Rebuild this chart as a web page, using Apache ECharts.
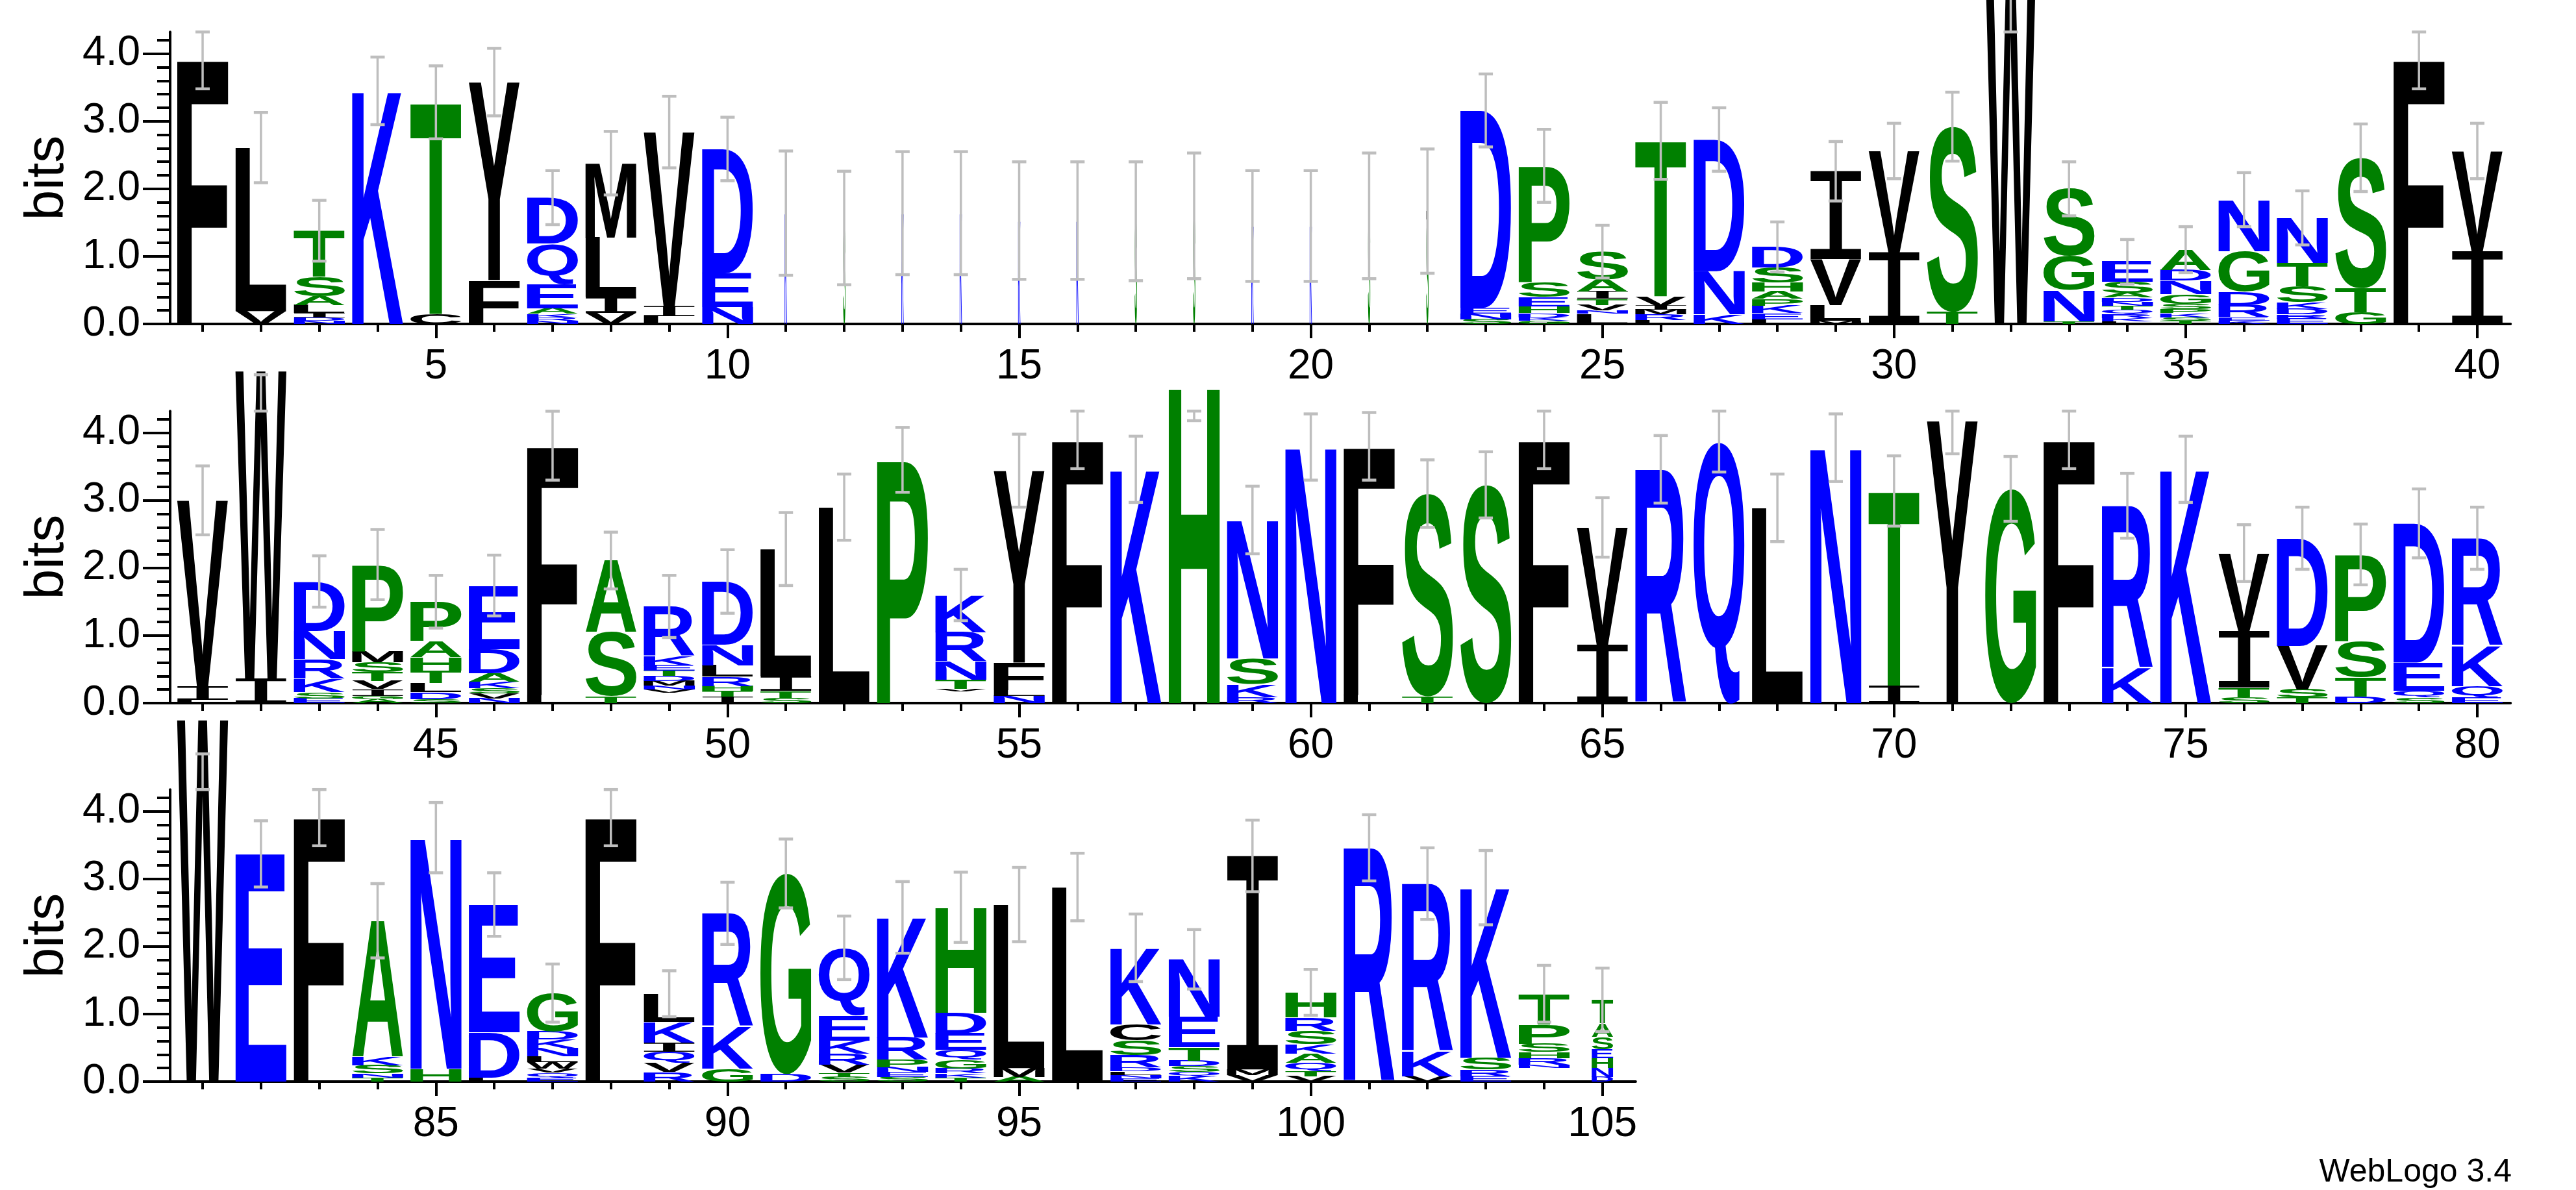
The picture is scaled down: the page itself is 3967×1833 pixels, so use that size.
<!DOCTYPE html>
<html>
<head>
<meta charset="utf-8">
<script src="https://cdn.jsdelivr.net/npm/echarts@6/dist/echarts.min.js"></script>
<style>
html,body{margin:0;padding:0;background:#ffffff;}
#chart{width:3967px;height:1833px;}
</style>
</head>
<body>
<div id="chart"></div>
<script>
// ---------------- DATA ----------------
const MAX_BITS = 4.3219;

// stacks: per position, letters from bottom to top as [letter, bits]; ' ' = undrawn space
const row1Stacks = [
  [['F',3.92]],
  [['V',0.19],['L',2.42]],
  [['N',0.05],['D',0.05],['I',0.06],['L',0.12],['A',0.13],['S',0.29],['T',0.68]],
  [['K',3.45]],
  [['C',0.15],['T',3.13]],
  [['F',0.65],['Y',2.93]],
  [['N',0.05],['R',0.05],['K',0.05],['A',0.08],['E',0.36],['Q',0.6],['D',0.68]],
  [['V',0.16],['I',0.24],['L',0.88],['M',1.1]],
  [['L',0.12],['I',0.15],['V',2.57]],
  [['N',0.25],['E',0.5],['D',1.84]],
  [['K',1.64]],
  [['S',1.42]],
  [['K',1.64]],
  [['K',1.64]],
  [['K',1.53]],
  [['K',1.53]],
  [['S',1.52]],
  [['S',1.6]],
  [['K',1.45]],
  [['K',1.45]],
  [['S',1.6]],
  [['S',1.55],['L',0.12]],
  [['S',0.07],['N',0.08],['E',0.09],['D',2.92]],
  [['G',0.05],['K',0.05],['D',0.06],['H',0.1],['E',0.14],['S',0.22],['P',1.72]],
  [['L',0.15],['N',0.05],['V',0.08],['T',0.09],['I',0.11],['A',0.18],['S',0.41]],
  [['L',0.06],['R',0.08],['M',0.07],['I',0.06],['V',0.14],['T',2.3]],
  [['K',0.14],['N',0.64],['D',1.95]],
  [['L',0.07],['E',0.09],['K',0.11],['P',0.1],['A',0.11],['H',0.13],['S',0.23],['D',0.3]],
  [['M',0.05],['L',0.23],['V',0.68],['I',1.3]],
  [['I',1.06],['V',1.5]],
  [['T',0.18],['S',2.74]],
  [['W',5.4]],
  [['T',0.04],['N',0.46],['G',0.5],['S',1.0]],
  [['L',0.04],['K',0.05],['R',0.06],['Q',0.06],['T',0.06],['N',0.06],['D',0.06],['A',0.07],['S',0.16],['E',0.3]],
  [['T',0.05],['S',0.05],['K',0.06],['P',0.06],['S',0.08],['G',0.14],['N',0.2],['D',0.16],['A',0.3]],
  [['K',0.05],['E',0.05],['R',0.18],['D',0.2],['G',0.6],['N',0.76]],
  [['E',0.08],['R',0.06],['D',0.08],['K',0.1],['S',0.24],['T',0.34],['N',0.67]],
  [['G',0.17],['T',0.36],['S',1.93]],
  [['F',3.92]],
  [['I',1.08],['V',1.48]]
];
const row2Stacks = [
  [['L',0.05],['I',0.2],['V',2.75]],
  [['I',0.36],['W',4.56]],
  [['E',0.07],['S',0.09],['K',0.2],['R',0.29],['N',0.42],['D',0.73]],
  [['A',0.06],['G',0.05],['I',0.1],['V',0.12],['T',0.13],['S',0.15],['M',0.16],['P',1.28]],
  [['S',0.06],['D',0.1],['L',0.14],['T',0.18],['H',0.2],['A',0.24],['P',0.58]],
  [['N',0.07],['V',0.07],['S',0.08],['K',0.1],['A',0.12],['D',0.36],['E',0.94]],
  [['L',0.12],['F',3.69]],
  [['T',0.1],['S',0.95],['A',1.06]],
  [[' ',0.15],['V',0.05],['N',0.06],['M',0.07],['D',0.07],['T',0.08],['E',0.08],['K',0.14],['R',0.73]],
  [['I',0.1],['T',0.08],['H',0.07],['R',0.14],['L',0.17],['N',0.3],['D',0.94]],
  [['S',0.08],['T',0.1],['I',0.22],['L',1.88]],
  [['L',2.9]],
  [['P',3.6]],
  [[' ',0.17],['V',0.04],['T',0.14],['N',0.27],['R',0.43],['K',0.55]],
  [['N',0.11],['L',0.08],['F',0.41],['Y',2.84]],
  [['F',3.9]],
  [['K',3.46]],
  [['H',4.68]],
  [['R',0.09],['K',0.19],['S',0.38],['N',2.05]],
  [['N',3.79]],
  [['L',0.12],['F',3.68]],
  [['T',0.1],['S',3.0]],
  [['S',3.23]],
  [['F',3.9]],
  [['I',0.86],['V',1.74]],
  [['R',3.46]],
  [['Q',3.88]],
  [['L',2.89]],
  [['N',3.78]],
  [['I',0.26],['T',2.88]],
  [['Y',4.18]],
  [['G',3.17]],
  [['F',3.9]],
  [['K',0.52],['R',2.4]],
  [['K',3.46]],
  [['S',0.09],['T',0.14],['I',0.84],['V',1.15]],
  [['T',0.08],['S',0.12],['V',0.65],['D',1.59]],
  [['D',0.1],['T',0.29],['S',0.53],['P',1.28]],
  [['S',0.08],['Q',0.1],['E',0.42],['D',2.06]],
  [['E',0.08],['Q',0.17],['K',0.6],['R',1.59]]
];
const row3Stacks = [
  [['W',5.36]],
  [['E',3.37]],
  [['F',3.92]],
  [['T',0.06],['N',0.06],['S',0.12],['K',0.12],['A',2.02]],
  [['H',0.19],['N',3.42]],
  [['L',0.06],['D',0.67],['E',1.89]],
  [['E',0.06],['Q',0.07],['V',0.06],['W',0.1],['L',0.08],['N',0.12],['K',0.13],['D',0.12],['G',0.57]],
  [['F',3.92]],
  [['R',0.14],['V',0.14],['Q',0.16],['I',0.14],['K',0.3],['L',0.42]],
  [['G',0.19],['K',0.62],['R',1.68]],
  [['D',0.11],['G',2.97]],
  [['S',0.07],['T',0.06],['V',0.12],['R',0.16],['K',0.2],['E',0.37],['Q',1.0]],
  [['S',0.07],['E',0.07],['N',0.07],['P',0.11],['R',0.33],['K',1.78]],
  [['T',0.06],['K',0.06],['R',0.07],['G',0.13],['Q',0.15],['E',0.24],['D',0.31],['H',1.56]],
  [['A',0.07],['M',0.13],['L',2.42]],
  [['L',2.88]],
  [['E',0.05],['N',0.05],['L',0.05],['D',0.06],['R',0.18],['S',0.22],['C',0.24],['K',1.13]],
  [['K',0.08],['Q',0.06],['S',0.09],['D',0.08],['T',0.2],['E',0.45],['N',0.85]],
  [['V',0.1],['M',0.08],['I',3.16]],
  [['V',0.08],['T',0.07],['Q',0.13],['A',0.13],['K',0.14],['S',0.2],['R',0.2],['H',0.37]],
  [['R',3.46]],
  [['V',0.08],['K',0.37],['R',2.48]],
  [['E',0.08],['R',0.1],['S',0.17],['K',2.52]],
  [[' ',0.2],['N',0.05],['R',0.1],['H',0.09],['S',0.12],['P',0.29],['T',0.45]],
  [['D',0.07],['N',0.13],['H',0.15],['E',0.13],['S',0.18],['A',0.2],['T',0.35]]
];

// error bar half-widths (bits), one per position
const row1Errors = [0.44,0.52,0.45,0.5,0.54,0.5,0.4,0.47,0.53,0.47,0.92,0.84,0.91,0.91,0.87,0.87,0.88,0.93,0.82,0.82,0.93,0.92,0.54,0.54,0.39,0.57,0.47,0.37,0.44,0.41,0.51,0.5,0.4,0.33,0.34,0.4,0.4,0.5,0.44,0.41];
const row2Errors = [0.51,0.06,0.38,0.52,0.39,0.45,0.51,0.42,0.46,0.47,0.54,0.49,0.48,0.38,0.54,0.43,0.49,0.5,0.5,0.49,0.5,0.5,0.49,0.43,0.44,0.5,0.46,0.5,0.5,0.52,0.49,0.48,0.43,0.48,0.49,0.42,0.46,0.45,0.51,0.46];
const row3Errors = [0.51,0.49,0.43,0.55,0.52,0.47,0.43,0.43,0.34,0.46,0.51,0.47,0.53,0.52,0.55,0.5,0.5,0.44,0.53,0.34,0.49,0.53,0.55,0.42,0.47];

// stack weights (fraction of non-gap symbols), one per position
const row1Weights = [1,1,1,1,1,1,1,1,1,1,0.045,0.045,0.045,0.045,0.045,0.045,0.045,0.045,0.045,0.045,0.045,0.045,1,1,1,1,1,1,1,1,1,1,1,1,1,1,1,1,1,1];
const row2Weights = [1,1,1,1,1,1,1,1,1,1,1,1,1,1,1,1,1,1,1,1,1,1,1,1,1,1,1,1,1,1,1,1,1,1,1,1,1,1,1,1];
const row3Weights = [1,1,1,1,1,1,1,1,1,1,1,1,1,1,1,1,1,1,1,1,1,1,1,1,0.42];

// positions and tick labels
const row1Positions = [1,2,3,4,5,6,7,8,9,10,11,12,13,14,15,16,17,18,19,20,21,22,23,24,25,26,27,28,29,30,31,32,33,34,35,36,37,38,39,40];
const row2Positions = [41,42,43,44,45,46,47,48,49,50,51,52,53,54,55,56,57,58,59,60,61,62,63,64,65,66,67,68,69,70,71,72,73,74,75,76,77,78,79,80];
const row3Positions = [81,82,83,84,85,86,87,88,89,90,91,92,93,94,95,96,97,98,99,100,101,102,103,104,105];
const row1TickLabels = [5,10,15,20,25,30,35,40];
const row2TickLabels = [45,50,55,60,65,70,75,80];
const row3TickLabels = [85,90,95,100,105];
const yTickLabels = [0,1,2,3,4];
const yMinorTicks = [0.2,0.4,0.6,0.8,1.2,1.4,1.6,1.8,2.2,2.4,2.6,2.8,3.2,3.4,3.6,3.8,4.2];

// ---------------- STYLE / LAYOUT ----------------
const BLUE_SET = 'RKDENQ', GREEN_SET = 'SGHTAP';
const COL_BLUE = '#0000ff', COL_GREEN = '#008000', COL_BLACK = '#000000', COL_ERR = '#bebebe';
const LETTERS = 'ACDEFGHIKLMNPQRSTVWY';
const LETTER_FRAC = 0.875;
const GRID_LEFT = 262, UNIT = 89.82, PLOT_H = 449.8;
const ROW_BOTTOMS = [499, 1083, 1666];
const PAD_L = 0.557, PAD_R = 0.57;
const LABEL_FONT = '"Liberation Sans", Arial, Helvetica, sans-serif';

function colorOf(ch) {
  if (BLUE_SET.indexOf(ch) >= 0) return COL_BLUE;
  if (GREEN_SET.indexOf(ch) >= 0) return COL_GREEN;
  return COL_BLACK;
}

// glyph ink metrics (canvas textBaseline 'middle', textAlign 'left')
const measureCtx = document.createElement('canvas').getContext('2d');
const glyphCache = {};
function glyph(ch) {
  if (glyphCache[ch]) return glyphCache[ch];
  const font = ch === 'I' ? '200px "DejaVu Sans Mono"' : 'bold 200px "Liberation Sans"';
  measureCtx.font = font;
  measureCtx.textBaseline = 'middle';
  measureCtx.textAlign = 'left';
  const m = measureCtx.measureText(ch);
  const g = {
    font: font,
    left: m.actualBoundingBoxLeft,
    ascent: m.actualBoundingBoxAscent,
    w: m.actualBoundingBoxLeft + m.actualBoundingBoxRight,
    h: m.actualBoundingBoxAscent + m.actualBoundingBoxDescent
  };
  glyphCache[ch] = g;
  return g;
}

const ROWS = [
  {stacks: row1Stacks, errors: row1Errors, weights: row1Weights, positions: row1Positions, labels: row1TickLabels},
  {stacks: row2Stacks, errors: row2Errors, weights: row2Weights, positions: row2Positions, labels: row2TickLabels},
  {stacks: row3Stacks, errors: row3Errors, weights: row3Weights, positions: row3Positions, labels: row3TickLabels}
];

function renderLetter(params, api) {
  const pos = api.value(0), y0 = api.value(1), y1 = api.value(2), w = api.value(3);
  const ch = LETTERS.charAt(api.value(4));
  const half = w * LETTER_FRAC / 2;
  const p0 = api.coord([pos - half, y1]);
  const p1 = api.coord([pos + half, y0]);
  const bw = p1[0] - p0[0], bh = p1[1] - p0[1];
  if (bh <= 0.1 || bw <= 0.1) return null;
  const g = glyph(ch);
  return {
    type: 'text',
    x: p0[0], y: p0[1],
    scaleX: bw / g.w, scaleY: bh / g.h,
    style: {text: ch, font: g.font, x: g.left, y: g.ascent, fill: colorOf(ch), align: 'left', verticalAlign: 'middle'}
  };
}

function renderError(params, api) {
  const pos = api.value(0), lo = api.value(1), hi = api.value(2);
  const a = api.coord([pos, lo]), b = api.coord([pos, hi]);
  const c = 11;
  return {
    type: 'group',
    children: [
      {type: 'line', shape: {x1: a[0], y1: a[1], x2: b[0], y2: b[1]}, style: {stroke: COL_ERR, lineWidth: 3.5}},
      {type: 'line', shape: {x1: a[0] - c, y1: a[1], x2: a[0] + c, y2: a[1]}, style: {stroke: COL_ERR, lineWidth: 4.5}},
      {type: 'line', shape: {x1: b[0] - c, y1: b[1], x2: b[0] + c, y2: b[1]}, style: {stroke: COL_ERR, lineWidth: 4.5}}
    ]
  };
}

const grids = [], xAxes = [], yAxes = [], series = [];
ROWS.forEach(function (row, r) {
  const first = row.positions[0], last = row.positions[row.positions.length - 1];
  const xmin = first - PAD_L, xmax = last + PAD_R;
  grids.push({left: GRID_LEFT, top: ROW_BOTTOMS[r] - PLOT_H, width: (xmax - xmin) * UNIT, height: PLOT_H});

  // minor x ticks (every position) + axis line
  xAxes.push({
    gridIndex: r, type: 'value', min: xmin, max: xmax, position: 'bottom',
    axisLine: {show: true, onZero: false, lineStyle: {color: '#000', width: 4}},
    axisTick: {show: true, customValues: row.positions, length: 12, lineStyle: {color: '#000', width: 4}},
    axisLabel: {show: false}, splitLine: {show: false}
  });
  // major x ticks with labels
  xAxes.push({
    gridIndex: r, type: 'value', min: xmin, max: xmax, position: 'bottom', offset: 0,
    axisLine: {show: false},
    axisTick: {show: true, customValues: row.labels, length: 22, lineStyle: {color: '#000', width: 4}},
    axisLabel: {show: true, customValues: row.labels, formatter: function (v) { return String(Math.round(v)); },
      fontSize: 64, fontFamily: LABEL_FONT, color: '#000', margin: 34},
    splitLine: {show: false}
  });
  // y axis with major ticks / labels
  yAxes.push({
    gridIndex: r, type: 'value', min: 0, max: MAX_BITS, position: 'left',
    name: 'bits', nameLocation: 'middle', nameGap: 146, nameRotate: 90,
    nameTextStyle: {fontSize: 84, fontFamily: LABEL_FONT, color: '#000'},
    axisLine: {show: true, lineStyle: {color: '#000', width: 4}},
    axisTick: {show: true, customValues: yTickLabels, length: 42, lineStyle: {color: '#000', width: 4}},
    axisLabel: {show: true, customValues: yTickLabels, formatter: function (v) { return v.toFixed(1); },
      fontSize: 64, fontFamily: LABEL_FONT, color: '#000', margin: 46},
    splitLine: {show: false}
  });
  // y minor ticks
  yAxes.push({
    gridIndex: r, type: 'value', min: 0, max: MAX_BITS, position: 'left', offset: 0,
    axisLine: {show: false},
    axisTick: {show: true, customValues: yMinorTicks, length: 20, lineStyle: {color: '#000', width: 4}},
    axisLabel: {show: false}, splitLine: {show: false}
  });

  const letterData = [], errData = [];
  row.stacks.forEach(function (stack, i) {
    const pos = row.positions[i];
    let y = 0;
    stack.forEach(function (item) {
      const ch = item[0], h = item[1];
      if (ch !== ' ') letterData.push([pos, y, y + h, row.weights[i], LETTERS.indexOf(ch)]);
      y += h;
    });
    const err = row.errors[i];
    errData.push([pos, y - err, Math.min(y + err, MAX_BITS)]);
  });

  series.push({
    type: 'custom', xAxisIndex: 2 * r, yAxisIndex: 2 * r, clip: false, z: 3,
    renderItem: renderLetter, data: letterData, silent: true
  });
  series.push({
    type: 'custom', xAxisIndex: 2 * r, yAxisIndex: 2 * r, clip: false, z: 4,
    renderItem: renderError, data: errData, silent: true
  });
});

const chart = echarts.init(document.getElementById('chart'), null, {renderer: 'canvas'});
chart.setOption({
  animation: false,
  backgroundColor: '#ffffff',
  grid: grids,
  xAxis: xAxes,
  yAxis: yAxes,
  series: series,
  graphic: [{
    type: 'text', right: 99, top: 1781,
    style: {text: 'WebLogo 3.4', font: '50px "Liberation Sans", Arial, sans-serif', fill: '#000'}
  }]
});
</script>
</body>
</html>
